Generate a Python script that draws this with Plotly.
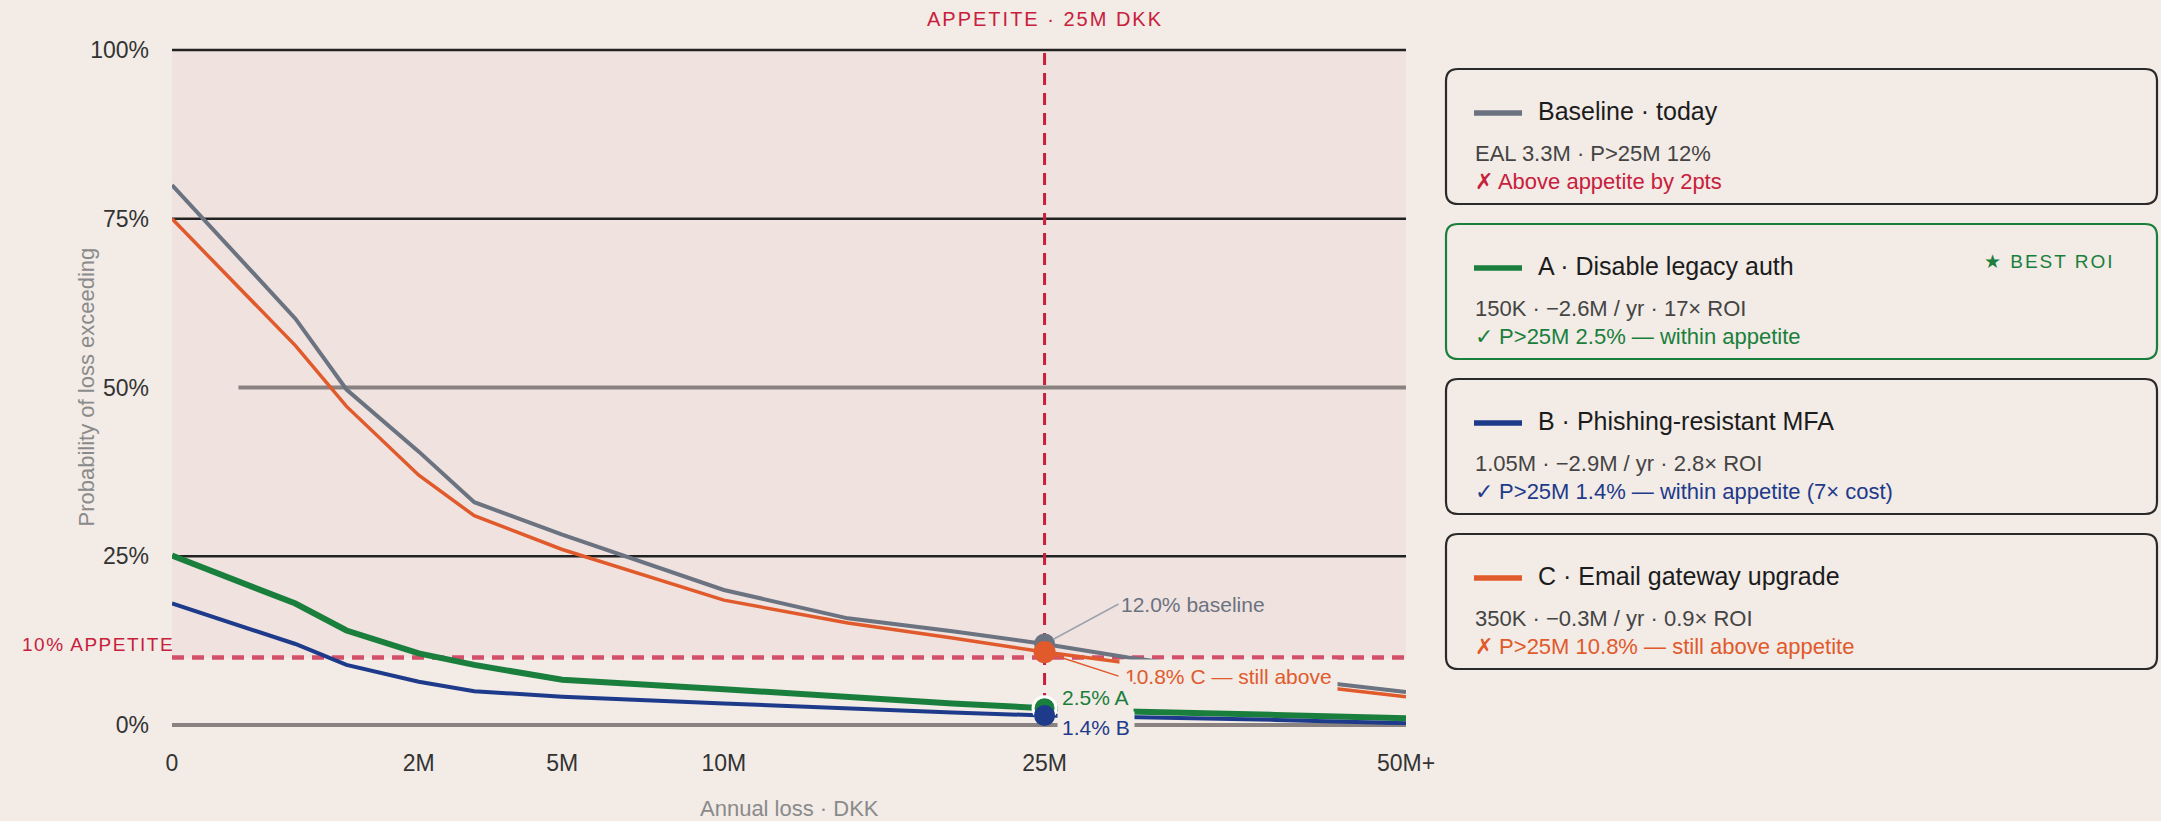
import numpy as np
import plotly.graph_objects as go

# ---------------- data ----------------
loss_m = [0, 0.5, 1, 2, 3, 5, 10, 15, 20, 25, 30, 40, 50]
baseline = [80.0, 60.2, 49.7, 40.5, 33.0, 28.2, 20.0, 15.8, 13.9, 12.0, 10.0, 7.1, 4.9]
opt_a = [25.1, 18.0, 14.0, 10.6, 8.9, 6.7, 5.3, 4.1, 3.2, 2.5, 2.0, 1.5, 1.0]
opt_b = [18.0, 12.0, 8.9, 6.4, 5.0, 4.2, 3.2, 2.4, 1.85, 1.4, 1.2, 0.75, 0.25]
opt_c = [75.0, 56.2, 47.2, 37.0, 31.0, 26.0, 18.5, 15.1, 12.9, 10.8, 9.2, 6.4, 4.2]

x_tick_vals_m = [0, 2, 5, 10, 25, 50]
x_tick_text = ["0", "2M", "5M", "10M", "25M", "50M+"]
y_tick_vals = [0, 25, 50, 75, 100]
y_tick_text = ["0%", "25%", "50%", "75%", "100%"]

appetite_loss_m = 25
appetite_prob = 10

legend_titles = ["Baseline · today", "A · Disable legacy auth",
                 "B · Phishing-resistant MFA", "C · Email gateway upgrade"]
legend_stats = ["EAL 3.3M · P>25M 12%", "150K · −2.6M / yr · 17× ROI",
                "1.05M · −2.9M / yr · 2.8× ROI", "350K · −0.3M / yr · 0.9× ROI"]
legend_verdicts = ["✗ Above appetite by 2pts", "✓ P>25M 2.5% — within appetite",
                   "✓ P>25M 1.4% — within appetite (7× cost)",
                   "✗ P>25M 10.8% — still above appetite"]

# ---------------- style ----------------
FONT = "Liberation Sans, Arial, Helvetica, sans-serif"
BG = "#f2ebe6"
SHADE = "#efe2df"
GRAY = "#6b7280"
ORANGE = "#e05a2b"
GREEN = "#1a7f3c"
BLUE = "#1e3a8a"
RED = "#c8203c"
DASH10 = "#d4506a"
GRIDDARK = "#222222"
REFGRAY = "#8a8280"
TXT = "#333333"
TITLEGRAY = "#8a8a8a"

W, H = 2161, 821
ML, MR, MT, MB = 172, 755, 50, 96
PW = W - ML - MR
PH = H - MT - MB
Y_RANGE = [0, 100]


def px(x):
    return (x - ML) / PW


def py(y):
    return (H - MB - y) / PH


def yp(v):
    return (v - Y_RANGE[0]) / (Y_RANGE[1] - Y_RANGE[0])


xs = np.sqrt(np.array(loss_m, dtype=float))
i25 = loss_m.index(appetite_loss_m)

fig = go.Figure()

series = [
    (baseline, GRAY, 4),
    (opt_a, GREEN, 6),
    (opt_b, BLUE, 4),
    (opt_c, ORANGE, 3.5),
]
for vals, color, width in series:
    fig.add_trace(go.Scatter(x=xs, y=vals, mode="lines",
                             line=dict(color=color, width=width),
                             hoverinfo="skip", showlegend=False))

markers = [
    (baseline, GRAY, 21, 0),
    (opt_c, ORANGE, 22, 0),
    (opt_a, GREEN, 23, 3),
    (opt_b, BLUE, 21, 0),
]
for vals, color, size, lw in markers:
    fig.add_trace(go.Scatter(x=[xs[i25]], y=[vals[i25]], mode="markers",
                             marker=dict(color=color, size=size,
                                         line=dict(color="white", width=lw)),
                             cliponaxis=False,
                             hoverinfo="skip", showlegend=False))

shapes = []
# shaded "above appetite" zone
shapes.append(dict(type="rect", xref="paper", yref="paper", x0=0, x1=1,
                   y0=yp(appetite_prob), y1=yp(100), fillcolor=SHADE,
                   line=dict(width=0), layer="below"))
# dark gridlines
for v in [100, 75, 25]:
    shapes.append(dict(type="line", xref="paper", yref="paper", x0=0, x1=1,
                       y0=yp(v), y1=yp(v), line=dict(color=GRIDDARK, width=2.5),
                       layer="below"))
# 50% reference line and zero line
shapes.append(dict(type="line", xref="x", yref="paper", x0=np.sqrt(0.145), x1=xs[-1],
                   y0=yp(50), y1=yp(50), line=dict(color=REFGRAY, width=4), layer="below"))
shapes.append(dict(type="line", xref="x", yref="paper", x0=0, x1=xs[-1],
                   y0=yp(0), y1=yp(0), line=dict(color=REFGRAY, width=4), layer="below"))
# 10% appetite line
shapes.append(dict(type="line", xref="paper", yref="paper", x0=0, x1=1,
                   y0=yp(appetite_prob), y1=yp(appetite_prob),
                   line=dict(color=DASH10, width=4.5, dash="12px,8px"), layer="below"))
# 25M appetite line
shapes.append(dict(type="line", xref="x", yref="paper", x0=np.sqrt(appetite_loss_m),
                   x1=np.sqrt(appetite_loss_m), y0=yp(0), y1=yp(100),
                   line=dict(color=RED, width=3, dash="12px,8px"), layer="below"))


def rrect(x0, y0, x1, y1, r):
    def P(x, y):
        return f"{px(x):.6f},{py(y):.6f}"
    return (f"M {P(x0 + r, y0)} L {P(x1 - r, y0)} Q {P(x1, y0)} {P(x1, y0 + r)} "
            f"L {P(x1, y1 - r)} Q {P(x1, y1)} {P(x1 - r, y1)} L {P(x0 + r, y1)} "
            f"Q {P(x0, y1)} {P(x0, y1 - r)} L {P(x0, y0 + r)} Q {P(x0, y0)} {P(x0 + r, y0)} Z")


annotations = []

# legend cards
box_tops = [69, 224, 379, 534]
box_h = 135
box_x0, box_x1 = 1446, 2157
swatch_colors = [GRAY, GREEN, BLUE, ORANGE]
verdict_colors = [RED, GREEN, BLUE, ORANGE]
border_colors = ["#2a2a2a", GREEN, "#2a2a2a", "#2a2a2a"]
for k in range(4):
    top = box_tops[k]
    shapes.append(dict(type="path", xref="paper", yref="paper",
                       path=rrect(box_x0, top, box_x1, top + box_h, 12),
                       line=dict(color=border_colors[k], width=2.2),
                       fillcolor="rgba(0,0,0,0)", layer="above"))
    shapes.append(dict(type="line", xref="paper", yref="paper",
                       x0=px(1474), x1=px(1522), y0=py(top + 44), y1=py(top + 44),
                       line=dict(color=swatch_colors[k], width=5.5), layer="above"))
    annotations.append(dict(xref="paper", yref="paper", x=px(1536), y=py(top + 42),
                            xanchor="left", yanchor="middle", showarrow=False,
                            text=legend_titles[k],
                            font=dict(family=FONT, size=25, color="#1c1c1c")))
    annotations.append(dict(xref="paper", yref="paper", x=px(1473), y=py(top + 84),
                            xanchor="left", yanchor="middle", showarrow=False,
                            text=legend_stats[k],
                            font=dict(family=FONT, size=22, color="#444444")))
    annotations.append(dict(xref="paper", yref="paper", x=px(1473), y=py(top + 112),
                            xanchor="left", yanchor="middle", showarrow=False,
                            text=legend_verdicts[k],
                            font=dict(family=FONT, size=22, color=verdict_colors[k])))

annotations.append(dict(xref="paper", yref="paper", x=px(2117), y=py(261),
                        xanchor="right", yanchor="middle", showarrow=False,
                        text='<span style="letter-spacing:2px">★ BEST ROI</span>',
                        font=dict(family=FONT, size=19, color=GREEN)))

# appetite labels
annotations.append(dict(xref="x", yref="paper", x=np.sqrt(appetite_loss_m), y=py(19),
                        xanchor="center", yanchor="middle", showarrow=False,
                        text='<span style="letter-spacing:2px">APPETITE · 25M DKK</span>',
                        font=dict(family=FONT, size=20, color=RED)))
annotations.append(dict(xref="paper", yref="paper", x=px(176), y=py(644),
                        xanchor="right", yanchor="middle", showarrow=False,
                        text='<span style="letter-spacing:1.5px">10% APPETITE</span>',
                        font=dict(family=FONT, size=19, color=RED)))

# value labels at 25M
x25 = xs[i25]
annotations.append(dict(x=x25, y=baseline[i25], xref="x", yref="y",
                        text=f"{baseline[i25]:.1f}% baseline",
                        showarrow=True, arrowhead=0, arrowwidth=1.5, arrowcolor="#9ca3af",
                        ax=74, ay=-40, standoff=10, xanchor="left", yanchor="middle",
                        font=dict(family=FONT, size=21, color=GRAY)))
annotations.append(dict(x=x25, y=opt_c[i25], xref="x", yref="y",
                        text=f"{opt_c[i25]:.1f}% C — still above",
                        showarrow=True, arrowhead=0, arrowwidth=1.5, arrowcolor=ORANGE,
                        ax=74, ay=24, standoff=11, xanchor="left", yanchor="middle",
                        bgcolor=BG, borderpad=5,
                        font=dict(family=FONT, size=21, color=ORANGE)))
annotations.append(dict(x=x25, y=opt_a[i25], xref="x", yref="y",
                        text=f"{opt_a[i25]:.1f}% A", showarrow=False,
                        xanchor="left", yanchor="middle", xshift=12, yshift=11,
                        bgcolor=BG, borderpad=4,
                        font=dict(family=FONT, size=21, color=GREEN)))
annotations.append(dict(x=x25, y=opt_b[i25], xref="x", yref="y",
                        text=f"{opt_b[i25]:.1f}% B", showarrow=False,
                        xanchor="left", yanchor="middle", xshift=12, yshift=-12,
                        bgcolor=BG, borderpad=4,
                        font=dict(family=FONT, size=21, color=BLUE)))

# axis titles
annotations.append(dict(xref="paper", yref="paper", x=0.5, y=py(808),
                        xanchor="center", yanchor="middle", showarrow=False,
                        text="Annual loss · DKK",
                        font=dict(family=FONT, size=22, color=TITLEGRAY)))
annotations.append(dict(xref="paper", yref="paper", x=px(86), y=0.5,
                        xanchor="center", yanchor="middle", showarrow=False,
                        textangle=-90, text="Probability of loss exceeding",
                        font=dict(family=FONT, size=22, color=TITLEGRAY)))

fig.update_layout(
    width=W, height=H,
    margin=dict(l=ML, r=MR, t=MT, b=MB, pad=0),
    paper_bgcolor=BG, plot_bgcolor=BG,
    showlegend=False,
    font=dict(family=FONT, color=TXT),
    shapes=shapes,
    annotations=annotations,
    xaxis=dict(range=[0, float(xs[-1])], showgrid=False, zeroline=False, showline=False,
               tickmode="array", tickvals=np.sqrt(x_tick_vals_m), ticktext=x_tick_text,
               ticks="", tickfont=dict(family=FONT, size=23, color=TXT),
               ticklabelstandoff=22, automargin=False, fixedrange=True),
    yaxis=dict(range=Y_RANGE, showgrid=False, zeroline=False, showline=False,
               tickmode="array", tickvals=y_tick_vals, ticktext=y_tick_text,
               ticks="", tickfont=dict(family=FONT, size=23, color=TXT),
               ticklabelstandoff=22, automargin=False, fixedrange=True),
)

fig.write_html("out.html", config={"displayModeBar": False},
               post_script="document.body.style.margin='0';document.body.style.overflow='hidden';")
